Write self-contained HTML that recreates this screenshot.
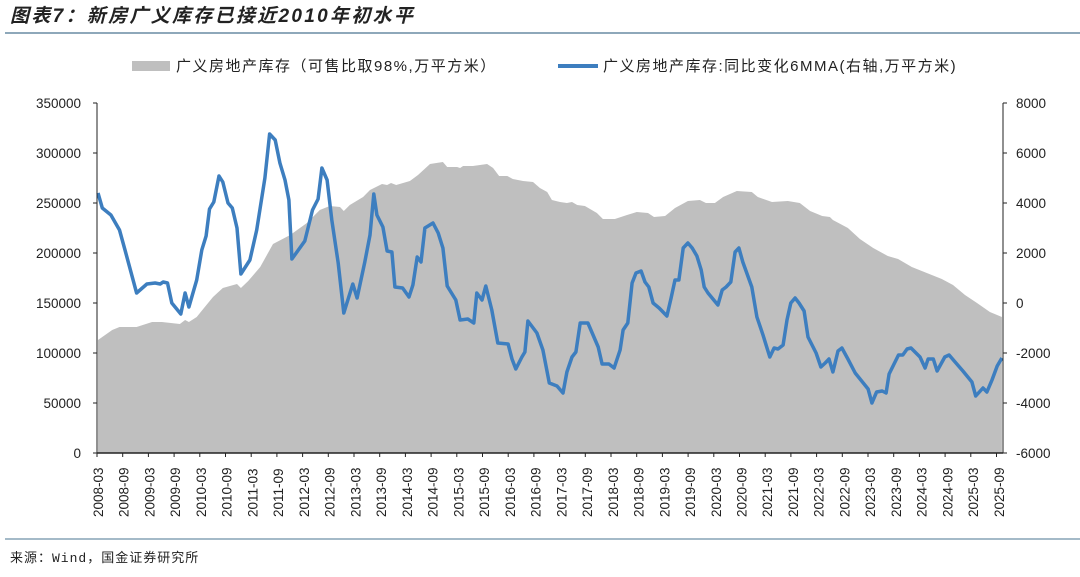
<!DOCTYPE html>
<html><head><meta charset="utf-8">
<style>
html,body{margin:0;padding:0;background:#fff;}
body{width:1080px;height:572px;overflow:hidden;position:relative;font-family:"Liberation Sans","Noto Sans CJK SC",sans-serif;}
</style></head>
<body>
<svg id="chart" width="1080" height="572" xmlns="http://www.w3.org/2000/svg" font-family="Liberation Sans, Noto Sans CJK SC, sans-serif">
  <text x="10" y="22" font-size="19" font-style="italic" font-weight="bold" fill="#222" letter-spacing="2.3">图表7：新房广义库存已接近2010年初水平</text>
  <line x1="5" y1="33" x2="1080" y2="33" stroke="#4a7590" stroke-width="1.2"/>
  <g>
    <rect x="132" y="61" width="38" height="10" fill="#bfbfbf"/>
    <text x="176" y="71" font-size="15" fill="#222" letter-spacing="1.5">广义房地产库存（可售比取98%,万平方米）</text>
    <line x1="558" y1="66" x2="598" y2="66" stroke="#3d7ebf" stroke-width="4"/>
    <text x="603" y="71" font-size="15" fill="#222" letter-spacing="1.5">广义房地产库存:同比变化6MMA(右轴,万平方米)</text>
  </g>
  <g id="plot"></g>
  <line x1="5" y1="539" x2="1080" y2="539" stroke="#4a7590" stroke-width="1"/>
  <text x="10" y="562" font-size="13" fill="#222" letter-spacing="1" font-family="Liberation Mono, Noto Sans CJK SC, monospace">来源：Wind，国金证券研究所</text>
</svg>
<script>
// Data (month index from 2008-03)
const areaMonths = [0,3.3,5,9,12.6,14.9,19.1,20.3,21.2,23,24.9,26.8,29.1,32.4,33.3,35,37.8,40.8,44.8,48.7,51.7,54,56.4,57.3,58.7,61.8,63.4,66.2,67.4,68.3,69.5,72.7,74.6,77.4,80.4,81.4,83.7,84.4,85.1,87.4,90.7,92.1,93.5,95.4,96.7,99.1,101.4,103,104.7,105.8,107.7,109.3,110.5,111.7,113.5,116.3,117.7,120.5,123.3,125.6,128.2,129.6,132.2,134.5,137.5,140.3,141.7,143.8,145.7,148.9,152.4,153.8,157.1,160.8,163.6,166,168.8,170.6,171.3,174.8,177.6,180.7,184.1,186.5,189.7,193.2,196.7,199.3,202.1,204.9,207.9,210.7];
const areaValues = [113000,123000,126000,126000,131000,131000,129000,133000,131000,136000,146000,156000,165000,169000,165000,172000,186000,209000,218000,230000,243000,247000,246000,242000,248000,256000,263000,269000,268000,270000,268000,272000,278000,289000,291000,286000,286000,285000,287000,287000,289000,285000,277000,277000,274000,272000,271000,265000,261000,253000,251000,250000,251000,248000,247000,240000,234000,234000,238000,241000,240000,236000,237000,245000,252000,253000,250000,250000,256000,262000,261000,256000,251000,252000,250000,242000,237000,236000,233000,225000,214000,205000,197000,194000,186000,180000,174000,168000,158000,150000,141000,136000];
const lineMonths = [0,1,3,5,6.3,9,11.4,13.3,14.5,15.2,16.2,17.2,19.3,20.3,21.2,23,24.2,25.2,26,27,28.2,29.1,30.3,31.3,32.4,33.3,35.4,37,38.9,40,41.3,42.4,43.6,44.5,45.2,48.2,50,51.3,52.2,53.4,54.5,56,57.3,59.4,60.4,62.2,63.4,64.3,65,66.4,67.4,68.5,69.2,71,72.5,73.4,74.4,75.3,76.2,78.1,79.3,80.4,81.4,83.4,84.4,86.2,87.6,88.3,89.5,90.4,91.8,93.2,95.6,96.5,97.4,98.8,99.5,100.2,102.3,103.7,105.2,107,108.4,109.3,110.5,111.4,112.4,114.2,116.6,117.5,119.1,120.3,121.7,122.4,123.5,124.5,125.4,126.6,127.5,128.4,129.4,130.8,132.6,133.6,134.5,135.4,136.4,137.5,138.5,139.6,140.6,141.3,142.2,144.5,145.5,146.4,147.5,148.5,149.4,150.3,152.4,153.6,155,156.6,157.6,158.5,159.7,160.6,161.5,162.5,163.4,164.6,165.5,167.4,168.5,169.5,170.4,171.3,172.5,173.4,174.8,176.5,179.5,180.4,181.5,182.8,183.7,184.4,186.6,187.6,188.6,189.5,191.6,192.8,193.5,194.7,195.6,197.4,198.4,199.8,201.6,203.7,204.6,206.3,207.2,208.4,209.6,210.7];
const lineValues = [4400,3800,3520,2920,2120,400,760,800,760,840,800,0,-440,400,-160,920,2120,2680,3760,4040,5080,4840,4000,3800,3000,1160,1720,2920,5000,6760,6520,5600,4920,4120,1760,2480,3720,4160,5400,4920,3320,1600,-400,760,200,1640,2720,4360,3520,3040,2080,2040,640,600,240,720,1840,1640,3000,3200,2800,2200,680,120,-680,-640,-800,400,120,680,-280,-1600,-1640,-2240,-2640,-2160,-1960,-720,-1200,-1880,-3200,-3320,-3600,-2760,-2160,-1960,-800,-800,-1760,-2440,-2440,-2600,-1880,-1080,-800,800,1200,1280,840,640,0,-200,-520,200,920,920,2200,2400,2200,1880,1320,640,400,-80,520,640,840,2040,2200,1640,640,-560,-1280,-2160,-1800,-1840,-1680,-680,0,200,0,-320,-1360,-2000,-2560,-2400,-2240,-2760,-1920,-1800,-2240,-2800,-3440,-4000,-3560,-3520,-3600,-2840,-2080,-2080,-1840,-1800,-2160,-2600,-2240,-2240,-2720,-2160,-2080,-2360,-2720,-3160,-3720,-3400,-3560,-3080,-2520,-2200];
const leftTicks = [0,50000,100000,150000,200000,250000,300000,350000];
const rightTicks = [-6000,-4000,-2000,0,2000,4000,6000,8000];
const xLabels = [];
for (let y = 2008; y <= 2025; y++) { xLabels.push(y + '-03'); xLabels.push(y + '-09'); }

const NS = 'http://www.w3.org/2000/svg';
const X0 = 97, X1 = 1003, YT = 103, YB = 453;
const xScale = m => 98 + m * 4.29;
const yLeft = v => YB - (v / 350000) * (YB - YT);
const yRight = v => YB - ((v + 6000) / 14000) * (YB - YT);
const plot = document.getElementById('plot');
function mk(tag, attrs) { const e = document.createElementNS(NS, tag); for (const k in attrs) e.setAttribute(k, attrs[k]); plot.appendChild(e); return e; }

let d = 'M' + xScale(areaMonths[0]) + ',' + YB;
areaMonths.forEach((m, i) => { d += ' L' + xScale(m).toFixed(1) + ',' + yLeft(areaValues[i]).toFixed(1); });
d += ' L' + xScale(areaMonths[areaMonths.length - 1]).toFixed(1) + ',' + YB + ' Z';
const area = mk('path', { d: d, fill: '#bfbfbf' });



let ld = '';
lineMonths.forEach((m, i) => { ld += (i ? ' L' : 'M') + xScale(m).toFixed(1) + ',' + yRight(lineValues[i]).toFixed(1); });
const line = mk('path', { d: ld, fill: 'none', stroke: '#3d7ebf', 'stroke-width': 3.5, 'stroke-linejoin': 'round' });



const axL = mk('line', { x1: X0, y1: YT, x2: X0, y2: YB, stroke: '#222', 'stroke-width': 1 });


const axR = mk('line', { x1: X1, y1: YT, x2: X1, y2: YB, stroke: '#222', 'stroke-width': 1 });


const axB = mk('line', { x1: X0, y1: YB, x2: X1, y2: YB, stroke: '#222', 'stroke-width': 1.5 });



leftTicks.forEach(v => {
  const y = yLeft(v);
  mk('line', { x1: X0 - 4, y1: y, x2: X0, y2: y, stroke: '#222' });
  const t = mk('text', { x: X0 - 16, y: y + 5, 'text-anchor': 'end', 'font-size': 13.5, fill: '#222' });
  t.textContent = v;
  
  
});
rightTicks.forEach(v => {
  const y = yRight(v);
  mk('line', { x1: X1, y1: y, x2: X1 + 4, y2: y, stroke: '#222' });
  const t = mk('text', { x: X1 + 13, y: y + 5, 'text-anchor': 'start', 'font-size': 13.5, fill: '#222' });
  t.textContent = v;
  
  
});
xLabels.forEach((lab, i) => {
  const xt = X0 + i * 25.7;
  mk('line', { x1: xt, y1: YB, x2: xt, y2: YB + 4, stroke: '#222' });
  const xl = xScale(i * 6) + 5;
  const t = mk('text', { x: 0, y: 0, transform: 'translate(' + xl + ',517) rotate(-90)', 'font-size': 13.5, fill: '#222' });
  t.textContent = lab;
  
  
});
</script>
</body></html>
